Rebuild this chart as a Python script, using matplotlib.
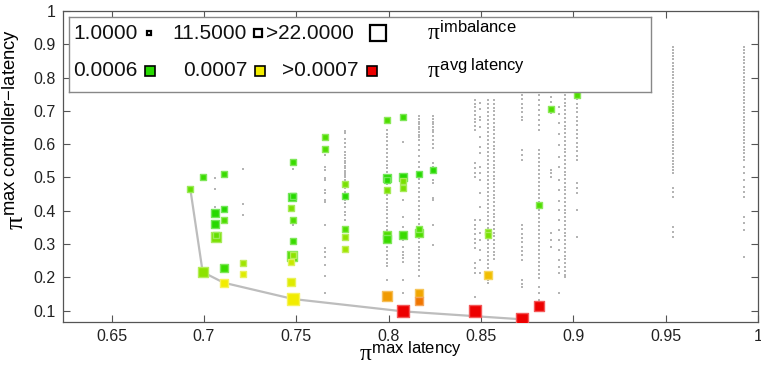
import numpy as np
import matplotlib.pyplot as plt
from matplotlib.colors import LinearSegmentedColormap, Normalize, to_rgb

plt.rcParams['font.family'] = ['Liberation Sans', 'DejaVu Sans']
plt.rcParams['mathtext.fontset'] = 'custom'
plt.rcParams['mathtext.rm'] = 'Liberation Sans'
plt.rcParams['mathtext.it'] = 'Liberation Serif'

# pareto front (grey line)
front_x = [0.6926, 0.6993, 0.7107, 0.7483, 0.8077, 0.8723]
front_y = [0.4655, 0.216, 0.184, 0.135, 0.098, 0.074]

# highlighted placements: max latency, max controller latency, imbalance, avg latency
pts_x = [0.6926, 0.6993, 0.7107, 0.7062, 0.7107, 0.7062, 0.7107, 0.7064, 0.7064,
         0.6993, 0.7107, 0.7107, 0.7213, 0.7213, 0.7483, 0.7476, 0.7483, 0.7472,
         0.7483, 0.7483, 0.7476, 0.7483, 0.7472, 0.7470, 0.7483, 0.7656, 0.7656,
         0.7766, 0.7766, 0.7766, 0.7766, 0.7766, 0.7992, 0.8077, 0.7992, 0.7992,
         0.8077, 0.8077, 0.8077, 0.7992, 0.8165, 0.8239, 0.7992, 0.7992, 0.8077,
         0.8165, 0.8165, 0.7992, 0.8165, 0.8165, 0.8077, 0.8467, 0.9021, 0.8880,
         0.8813, 0.8537, 0.8537, 0.8537, 0.8723, 0.8813]
pts_y = [0.4655, 0.5006, 0.5114, 0.394, 0.405, 0.359, 0.372, 0.322, 0.327,
         0.216, 0.229, 0.184, 0.242, 0.210, 0.547, 0.442, 0.443, 0.408,
         0.372, 0.308, 0.264, 0.268, 0.245, 0.186, 0.135, 0.621, 0.585,
         0.480, 0.4435, 0.346, 0.320, 0.285, 0.673, 0.681, 0.4985, 0.493,
         0.502, 0.490, 0.469, 0.4615, 0.511, 0.5225, 0.328, 0.314, 0.326,
         0.346, 0.333, 0.145, 0.152, 0.129, 0.098, 0.100, 0.7486, 0.7066,
         0.4174, 0.336, 0.327, 0.207, 0.074, 0.114]
pts_imb = [4, 4, 2, 6, 2, 6, 2, 16, 2,
           12, 8, 10, 2, 2, 2, 8, 2, 2,
           2, 2, 14, 3, 2, 8, 22, 2, 2,
           2, 2, 3, 2, 2, 2, 2, 7, 3,
           7, 2, 2, 2, 2, 2, 8, 8, 8,
           3, 7, 16, 8, 8, 22, 22, 2, 2,
           2, 4, 4, 8, 22, 14]
pts_avg = [0.00063, 0.00061, 0.00061, 0.00060, 0.00060, 0.00060, 0.00062, 0.00064, 0.00063,
           0.00065, 0.00061, 0.00070, 0.00066, 0.00069, 0.00061, 0.00060, 0.00060, 0.00064,
           0.00062, 0.00061, 0.00062, 0.00065, 0.00068, 0.00069, 0.00070, 0.00062, 0.00062,
           0.00064, 0.00060, 0.00062, 0.00065, 0.00066, 0.00062, 0.00061, 0.00060, 0.00060,
           0.00060, 0.00064, 0.00064, 0.00064, 0.00060, 0.00060, 0.00062, 0.00061, 0.00061,
           0.00062, 0.00062, 0.000735, 0.00073, 0.00075, 0.00080, 0.00080, 0.00062, 0.00062,
           0.00062, 0.00064, 0.00064, 0.00072, 0.00080, 0.00080]

# remaining placements (small grey dots), one column per max-latency value
grey_x = [0.7062, 0.7213, 0.7483, 0.7656, 0.7766, 0.7992, 0.8077, 0.8165, 0.8239,
          0.8467, 0.8496, 0.8537, 0.8571, 0.8723, 0.8813, 0.8880, 0.8922, 0.8955,
          0.9021, 0.9540, 0.9922]
grey_y = [
    [0.499, 0.465, 0.411],
    [0.525, 0.420, 0.387, 0.202],
    [0.525, 0.357],
    [0.568, 0.532, 0.522, 0.498, 0.492, 0.462, 0.454, 0.432, 0.427, 0.357, 0.287,
     0.277, 0.262, 0.237, 0.205, 0.154],
    [0.640, 0.633, 0.615, 0.604, 0.592, 0.577, 0.568, 0.558, 0.550, 0.543, 0.535,
     0.528, 0.520, 0.514, 0.508, 0.501, 0.492, 0.468, 0.457, 0.432, 0.422, 0.412,
     0.397, 0.387, 0.372],
    [0.642, 0.632, 0.621, 0.609, 0.598, 0.586, 0.574, 0.563, 0.551, 0.539, 0.528,
     0.516, 0.481, 0.447, 0.436, 0.424, 0.412, 0.401, 0.389, 0.377, 0.366, 0.354,
     0.343, 0.302, 0.291, 0.279, 0.267, 0.256, 0.244, 0.233, 0.192],
    [0.608, 0.502, 0.483, 0.432, 0.382, 0.352, 0.312, 0.292, 0.277, 0.267, 0.257,
     0.247, 0.192, 0.152],
    [0.684, 0.676, 0.668, 0.661, 0.653, 0.645, 0.637, 0.629, 0.621, 0.612, 0.598,
     0.583, 0.566, 0.548, 0.532, 0.495, 0.482, 0.468, 0.455, 0.442, 0.428, 0.415,
     0.401, 0.388, 0.374, 0.361, 0.318, 0.305, 0.292, 0.281, 0.269, 0.258, 0.246,
     0.234, 0.221, 0.203],
    [0.684, 0.676, 0.668, 0.660, 0.652, 0.644, 0.636, 0.626, 0.614, 0.601, 0.588,
     0.543, 0.532, 0.492, 0.483, 0.438, 0.432, 0.357, 0.297],
    [0.733, 0.722, 0.711, 0.700, 0.689, 0.677, 0.666, 0.655, 0.644, 0.543, 0.529,
     0.515, 0.502, 0.372, 0.358, 0.344, 0.330, 0.316, 0.302, 0.289, 0.243, 0.228,
     0.213, 0.141],
    [0.723, 0.707, 0.682, 0.672, 0.652, 0.622, 0.592, 0.573, 0.532, 0.512, 0.492,
     0.452, 0.412, 0.372, 0.332, 0.312, 0.282, 0.252, 0.212],
    [0.733, 0.721, 0.709, 0.697, 0.685, 0.673, 0.661, 0.649, 0.637, 0.625, 0.613,
     0.601, 0.589, 0.577, 0.565, 0.553, 0.541, 0.529, 0.517, 0.505, 0.493, 0.481,
     0.469, 0.457, 0.445, 0.433, 0.421, 0.409, 0.397, 0.385, 0.373, 0.361, 0.349,
     0.313, 0.301, 0.289, 0.277, 0.265, 0.253, 0.241, 0.229, 0.193, 0.183],
    [0.733, 0.722, 0.710, 0.699, 0.688, 0.676, 0.665, 0.653, 0.642, 0.631, 0.619,
     0.608, 0.596, 0.585, 0.574, 0.562, 0.551, 0.539, 0.528, 0.517, 0.505, 0.494,
     0.482, 0.471, 0.460, 0.448, 0.437, 0.425, 0.414, 0.403, 0.391, 0.380, 0.368,
     0.357, 0.346, 0.334, 0.323, 0.311, 0.300, 0.289, 0.277, 0.266, 0.254],
    [0.748, 0.735, 0.722, 0.709, 0.696, 0.683, 0.673, 0.583, 0.568, 0.553, 0.357,
     0.344, 0.331, 0.318, 0.305, 0.292, 0.279, 0.266, 0.252, 0.192, 0.181, 0.171],
    [0.748, 0.733, 0.718, 0.703, 0.688, 0.673, 0.658, 0.643, 0.583, 0.571, 0.559,
     0.547, 0.535, 0.523, 0.511, 0.499, 0.487, 0.475, 0.463, 0.451, 0.439, 0.427,
     0.403, 0.391, 0.379, 0.367, 0.355, 0.343, 0.331, 0.319, 0.307, 0.295, 0.283,
     0.271, 0.259, 0.247, 0.235, 0.223, 0.211, 0.199, 0.171, 0.152, 0.132],
    [0.742, 0.726, 0.710, 0.694, 0.523, 0.512, 0.502, 0.333, 0.312, 0.291],
    [0.712, 0.690, 0.665, 0.631, 0.598, 0.562, 0.531, 0.493, 0.462, 0.428, 0.401,
     0.372, 0.341, 0.312, 0.281, 0.252, 0.232, 0.213, 0.153],
    [0.748, 0.737, 0.725, 0.714, 0.702, 0.691, 0.679, 0.668, 0.656, 0.645, 0.633,
     0.622, 0.610, 0.599, 0.587, 0.576, 0.564, 0.553, 0.541, 0.530, 0.518, 0.507,
     0.495, 0.484, 0.472, 0.461, 0.449, 0.438, 0.426, 0.415, 0.403, 0.392, 0.380,
     0.369, 0.357, 0.346, 0.334, 0.323, 0.311, 0.300, 0.288, 0.277, 0.265, 0.254,
     0.242, 0.231, 0.219, 0.208, 0.201],
    [0.748, 0.735, 0.722, 0.709, 0.696, 0.683, 0.670, 0.657, 0.644, 0.631, 0.618,
     0.605, 0.592, 0.579, 0.566, 0.553, 0.483, 0.468, 0.453, 0.402, 0.321],
    [0.893, 0.883, 0.874, 0.864, 0.855, 0.845, 0.836, 0.826, 0.817, 0.807, 0.798,
     0.788, 0.779, 0.769, 0.760, 0.750, 0.741, 0.731, 0.722, 0.712, 0.703, 0.693,
     0.684, 0.674, 0.665, 0.655, 0.646, 0.636, 0.627, 0.617, 0.608, 0.598, 0.589,
     0.579, 0.570, 0.560, 0.551, 0.541, 0.532, 0.522, 0.513, 0.468, 0.455, 0.441,
     0.351, 0.336, 0.321],
    [0.893, 0.883, 0.873, 0.863, 0.853, 0.843, 0.833, 0.823, 0.813, 0.803, 0.793,
     0.783, 0.773, 0.763, 0.753, 0.743, 0.733, 0.723, 0.713, 0.703, 0.693, 0.683,
     0.673, 0.663, 0.653, 0.643, 0.633, 0.623, 0.613, 0.603, 0.593, 0.583, 0.573,
     0.563, 0.553, 0.531, 0.512, 0.493, 0.472, 0.455, 0.441, 0.381, 0.362, 0.342,
     0.261],
]

x_ticks = [0.65, 0.7, 0.75, 0.8, 0.85, 0.9, 0.95, 1.0]
x_ticklabels = ['0.65', '0.7', '0.75', '0.8', '0.85', '0.9', '0.95', '1']
y_ticks = [0.1, 0.2, 0.3, 0.4, 0.5, 0.6, 0.7, 0.8, 0.9, 1.0]
y_ticklabels = ['0.1', '0.2', '0.3', '0.4', '0.5', '0.6', '0.7', '0.8', '0.9', '1']

imb_levels = ['1.0000', '11.5000', '>22.0000']
avg_levels = ['0.0006', '0.0007', '>0.0007']

cmap = LinearSegmentedColormap.from_list(
    'lat', [(0.15, 0.85, 0.0), (0.95, 0.93, 0.0), (0.93, 0.0, 0.0)])
norm = Normalize(0.0006, 0.0008)


def marker_size(imb):
    side = 4.3 + (min(imb, 22) - 1) / 21.0 * 4.8
    return side ** 2


def lighten(c, f=0.35):
    r, g, b = to_rgb(c)[:3]
    return (r + (1 - r) * f, g + (1 - g) * f, b + (1 - b) * f)


fig = plt.figure(figsize=(7.61, 3.72), dpi=100)
ax = fig.add_axes([0.0824, 0.1344, 0.9136, 0.836])

for gx, gys in zip(grey_x, grey_y):
    ax.scatter([gx] * len(gys), gys, s=0.8, marker='s', color='#b4b4b4',
               linewidths=0, zorder=1)

ax.plot(front_x, front_y, color='#bdbdbd', lw=1.6, zorder=2)

order = np.argsort(-np.array(pts_imb), kind='stable')
for i in order:
    fc = cmap(norm(pts_avg[i]))
    ax.scatter(pts_x[i], pts_y[i], s=marker_size(pts_imb[i]), marker='s',
               facecolor=fc, edgecolor=lighten(fc), linewidths=1.0, zorder=3)

ax.set_xlim(0.6235, 1.0)
ax.set_ylim(0.066, 1.0)
ax.set_xticks(x_ticks)
ax.set_xticklabels(x_ticklabels)
ax.set_yticks(y_ticks)
ax.set_yticklabels(y_ticklabels)
ax.tick_params(direction='in', top=True, right=True, length=5, width=0.8,
               color='#555555', labelsize=11.5, labelcolor='#222222', pad=5)
for sp in ax.spines.values():
    sp.set_color('#555555')
    sp.set_linewidth(0.9)

ax.set_xlabel(r'$\pi^{\mathrm{max\ latency}}$', fontsize=17, labelpad=-1)
ax.set_ylabel(r'$\pi^{\mathrm{max\ controller{-}latency}}$', fontsize=19)
ax.yaxis.set_label_coords(-0.049, 0.62)

# legend box drawn on its own axes
leg = fig.add_axes([0.0907, 0.7527, 0.7648, 0.2016])
leg.set_xlim(0, 1)
leg.set_ylim(0, 1)
leg.set_xticks([])
leg.set_yticks([])
leg.set_facecolor('white')
for sp in leg.spines.values():
    sp.set_color('#888888')
    sp.set_linewidth(1.0)

row1, row2 = 0.78, 0.28
txt_kw = dict(fontsize=15, va='center', color='#111111')
for lab, tx, mx, ms in zip(imb_levels, [0.007, 0.177, 0.338], [0.137, 0.325, 0.531],
                           [3.5, 6.0, 11.0]):
    leg.text(tx, row1, lab, **txt_kw)
    leg.plot(mx, row1, marker='s', ms=ms, mfc='white', mec='black', mew=1.6)
for lab, tx, mx, val in zip(avg_levels, [0.007, 0.196, 0.366], [0.139, 0.328, 0.521],
                            [0.0006, 0.0007, 0.0008]):
    leg.text(tx, row2, lab, **txt_kw)
    leg.plot(mx, row2, marker='s', ms=6.5, mfc=cmap(norm(val)), mec='black', mew=1.2)
leg.text(0.615, row1, r'$\pi^{\mathrm{imbalance}}$', fontsize=17, va='center')
leg.text(0.615, row2, r'$\pi^{\mathrm{avg\ latency}}$', fontsize=17, va='center')

fig.savefig('out.png', dpi=100)
